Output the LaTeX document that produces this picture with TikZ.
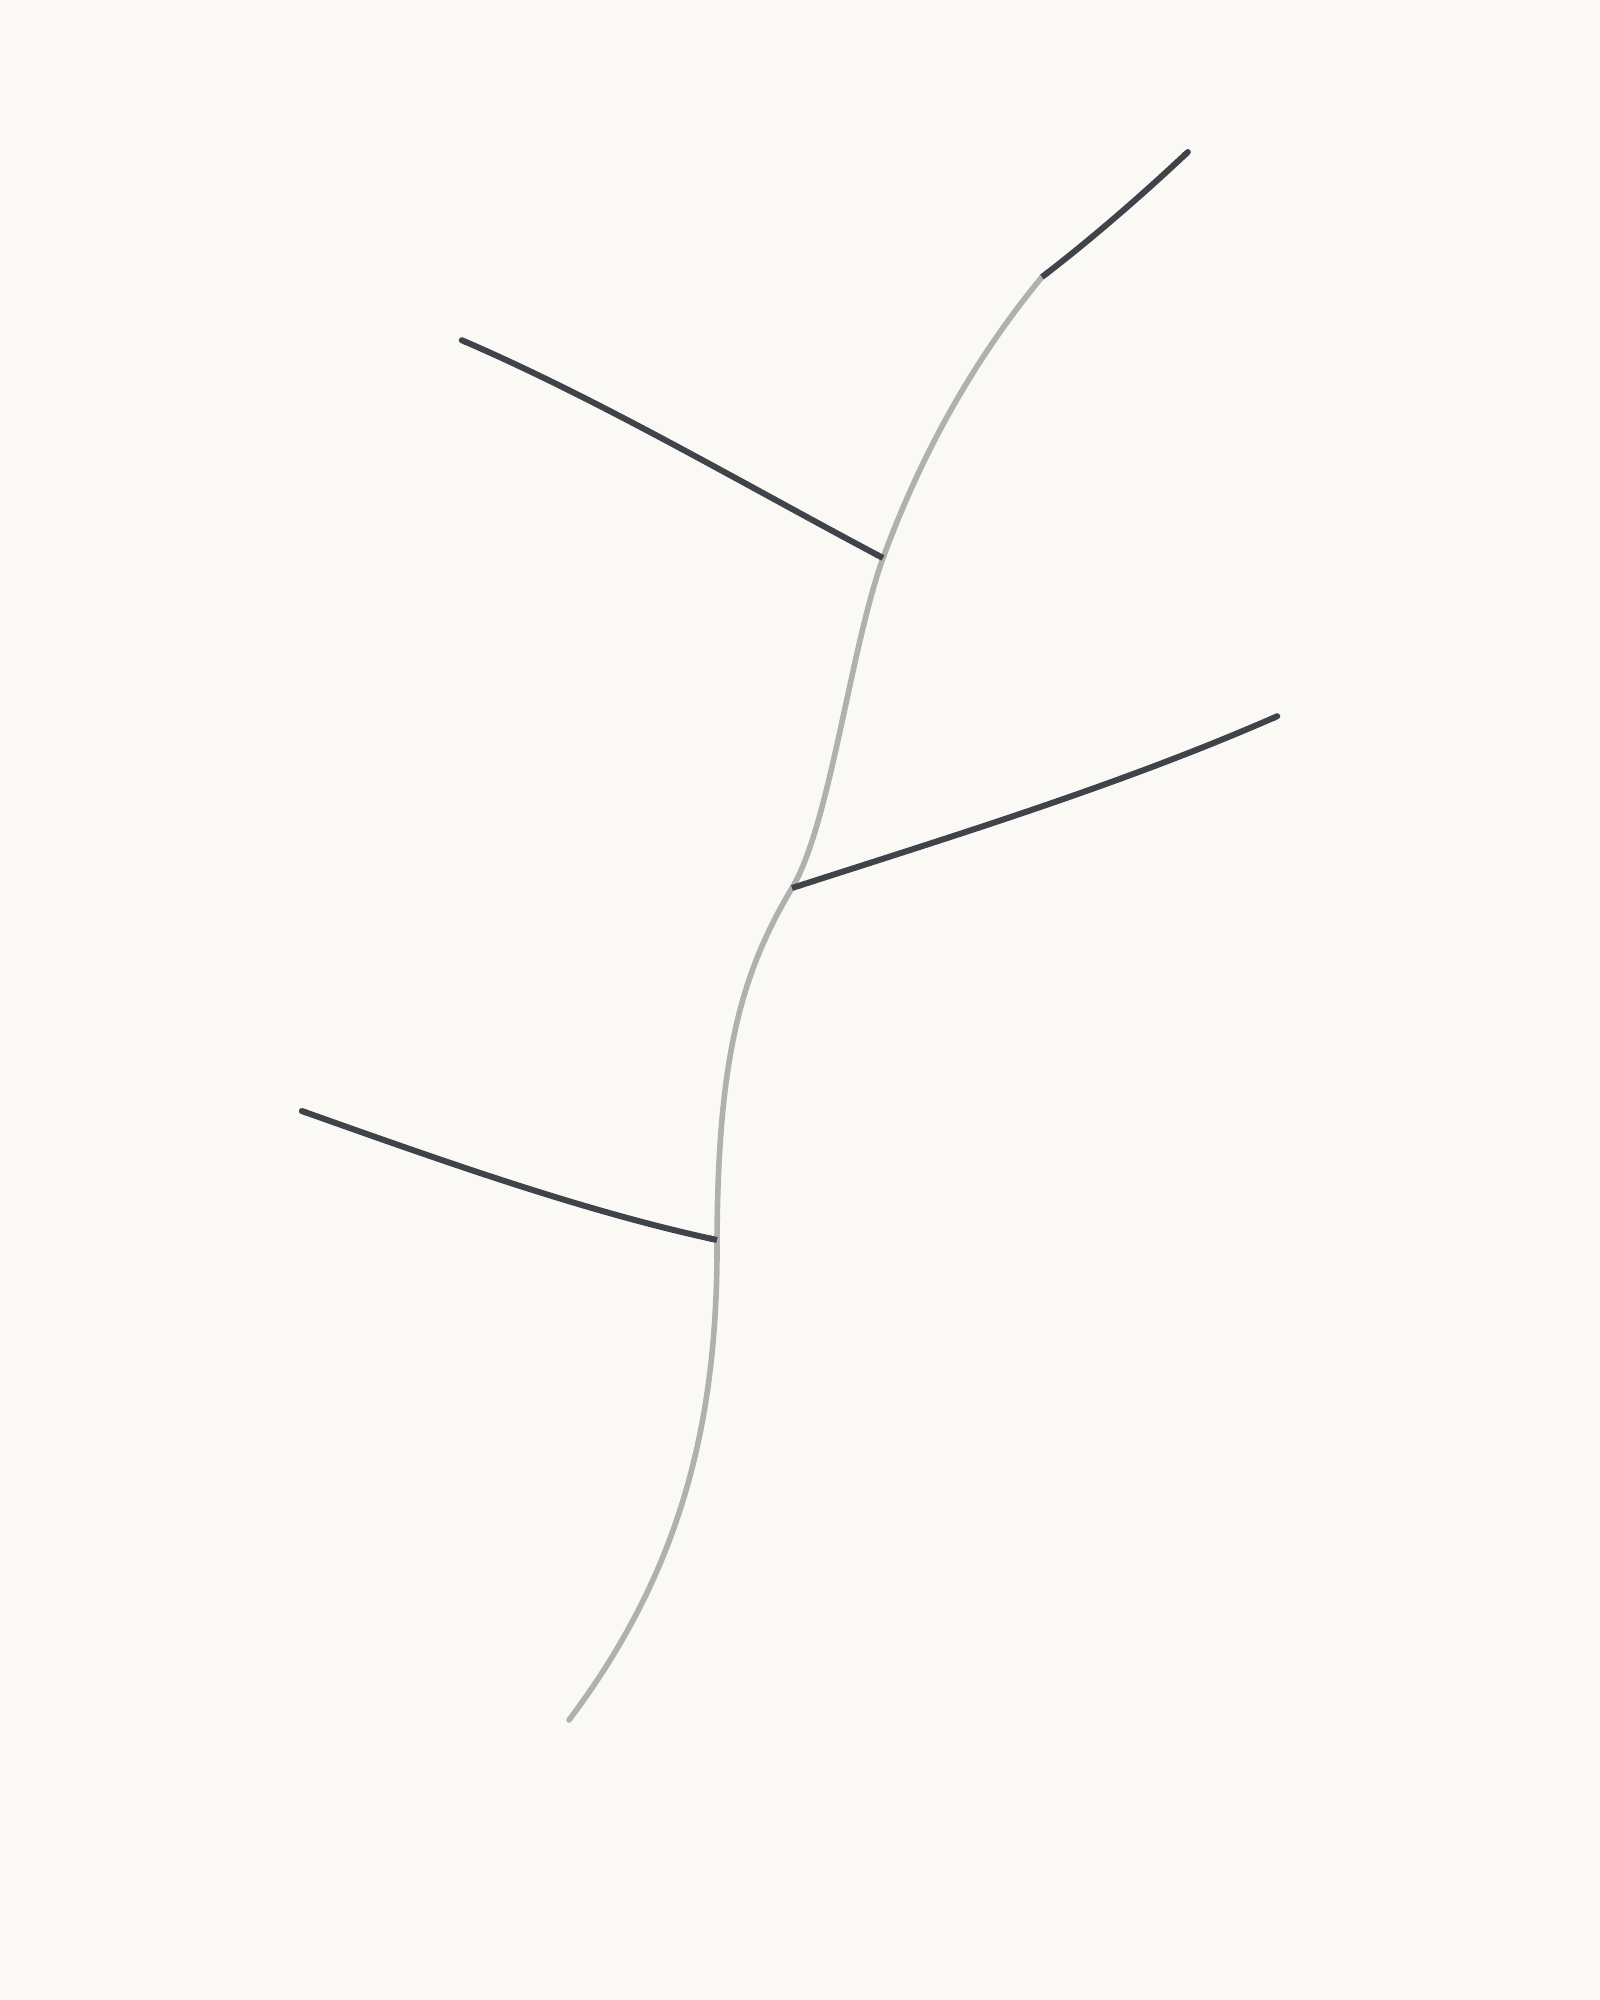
\documentclass[tikz,border=0pt]{standalone}
\usetikzlibrary{arrows.meta}
\definecolor{bgc}{HTML}{FAF9F6}
\definecolor{trunkc}{HTML}{B0B1AF}
\definecolor{branchc}{HTML}{3E4449}
\tikzset{
  trunk/.style={draw=trunkc, line width=0.056cm, line cap=round},
  branch/.style={draw=branchc, line width=0.06cm, {Round Cap[]}-{Butt Cap[]}},
}
\begin{document}
\begin{tikzpicture}[x=0.01cm,y=-0.01cm]
\fill[bgc] (0,0) rectangle (1600,2000);
\useasboundingbox (0,0) rectangle (1600,2000);
% trunk points
\coordinate (base) at (569,1720);
\coordinate (j4) at (717,1240);
\coordinate (j3) at (792,888);
\coordinate (j2) at (883,558);
\coordinate (j1) at (1042,277);
% branch ends
\coordinate (e1) at (1190,150);
\coordinate (e2) at (459,339);
\coordinate (e3) at (1280,715);
\coordinate (e4) at (299,1110);
% trunk
\draw[trunk] (base) .. controls (682,1570) and (718,1420) .. (j4)
  .. controls (718,1060) and (740,975) .. (j3)
  .. controls (830,825) and (850,650) .. (j2)
  .. controls (930,430) and (990,340) .. (j1);
% branches
\draw[branch] (e1) .. controls (1140,197) and (1090,240) .. (j1);
\draw[branch] (e2) .. controls (600,400) and (740,482) .. (j2);
\draw[branch] (e3) .. controls (1120,785) and (950,837) .. (j3);
\draw[branch] (e4) .. controls (440,1160) and (580,1210) .. (j4);
\end{tikzpicture}
\end{document}
